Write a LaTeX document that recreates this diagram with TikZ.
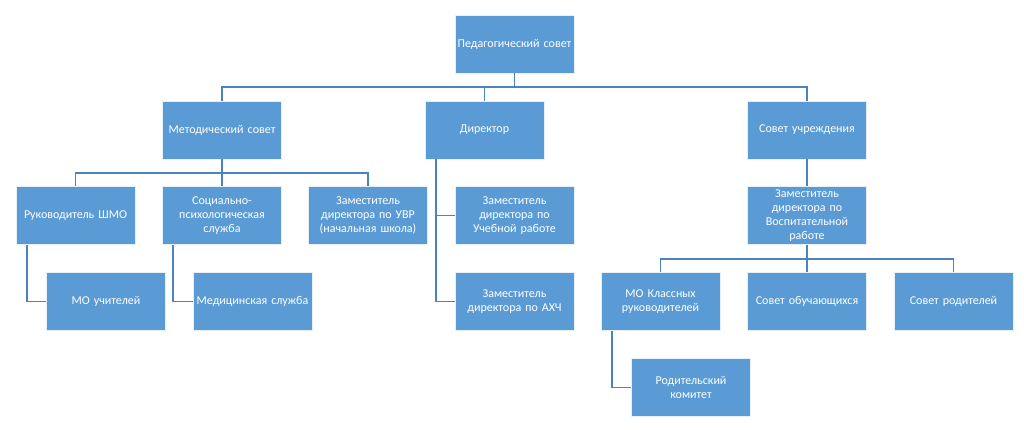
\documentclass[tikz,border=0pt]{standalone}
\usepackage{fontspec}
\setmainfont{Carlito}
\definecolor{boxblue}{HTML}{5B9BD5}
\definecolor{lineblue}{HTML}{4A84BE}
\tikzset{
  unit/.style={draw=white!85!boxblue,line width=0.6pt,fill=boxblue,text=white,
    minimum width=119pt,minimum height=58pt,text width=118pt,align=center,
    inner sep=0.5pt,font=\fontsize{12}{14}\selectfont},
  link/.style={draw=lineblue,line width=1.6pt}
}
\begin{document}
\begin{tikzpicture}[x=1pt,y=-1pt]
\useasboundingbox (0,0) rectangle (1024,430);

\node[unit] (ped) at (514.5,44) {Педагогический совет};

\node[unit] (met) at (222,130) {Методический совет};
\node[unit] (dir) at (484.5,130) {Директор};
\node[unit] (sov) at (807,130) {Совет учреждения};

\node[unit] (ruk) at (75.5,215.5) {Руководитель ШМО};
\node[unit] (soc) at (222,215.5) {Социально-\\психологическая\\служба};
\node[unit] (uvr) at (368,215.5) {Заместитель\\директора по УВР\\(начальная школа)};
\node[unit] (ucheb) at (514.5,215.5) {Заместитель\\директора по\\Учебной работе};
\node[unit] (vosp) at (807,215.5) {Заместитель\\директора по\\Воспитательной\\работе};

\node[unit] (mou) at (106,301.5) {МО учителей};
\node[unit] (med) at (252.5,301.5) {Медицинская служба};
\node[unit] (ahch) at (514.5,301.5) {Заместитель\\директора по АХЧ};
\node[unit] (mok) at (660.5,301.5) {МО Классных\\руководителей};
\node[unit] (obuch) at (807,301.5) {Совет обучающихся};
\node[unit] (rodit) at (953.5,301.5) {Совет родителей};

\node[unit] (kom) at (691,387.5) {Родительский\\комитет};

% buses from parent to children
\foreach \a/\b in {ped/met,ped/dir,ped/sov,met/ruk,met/soc,met/uvr,sov/vosp,vosp/mok,vosp/obuch,vosp/rodit}{
  \draw[link] (\a.south) -- ++(0,14) -| (\b.north);
}

% side branches
\foreach \a/\b in {dir/ucheb,dir/ahch,ruk/mou,soc/med,mok/kom}{
  \draw[link] ([xshift=11pt]\a.south west) |- (\b.west);
}

\end{tikzpicture}
\end{document}
